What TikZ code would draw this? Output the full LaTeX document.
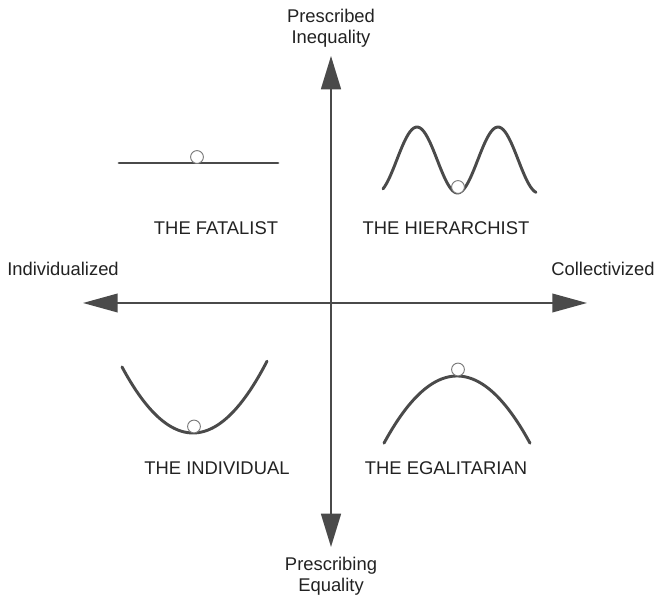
\documentclass[tikz,border=0pt]{standalone}
\usepackage{fontspec}
\setmainfont{Liberation Sans}
\usetikzlibrary{arrows.meta}
\definecolor{ink}{HTML}{4A4A4A}
\definecolor{txt}{HTML}{222222}
\definecolor{ballc}{HTML}{7A7A7A}
\begin{document}
\begin{tikzpicture}[x=0.75pt,y=0.75pt,
  lbl/.style={font=\fontsize{13.8}{16}\selectfont, text=txt, inner sep=0pt, align=center},
  axis/.style={draw=ink, line width=1.2pt},
  curve/.style={draw=ink, line width=2.2pt, line cap=round},
  ball/.style={draw=ballc, fill=white, line width=0.7pt}]
\useasboundingbox (0,0) rectangle (658,599);
% axes
\coordinate (top) at (331,543);
\coordinate (bot) at (331,52);
\coordinate (lft) at (83,296);
\coordinate (rgt) at (587,296);
\draw[axis, {Triangle[length=25pt,width=15pt]}-{Triangle[length=25pt,width=15pt]}, fill=ink] (bot) -- (top);
\draw[axis, {Triangle[length=26pt,width=14pt]}-{Triangle[length=26pt,width=14pt]}, fill=ink] (lft) -- (rgt);
% axis labels
\node[lbl] (pi) at (331,571) {Prescribed\\Inequality};
\node[lbl] (pe) at (331,22.5) {Prescribing\\Equality};
\node[lbl] (ind) at (63,330) {Individualized};
\node[lbl] (col) at (603,330) {Collectivized};
% quadrant labels
\node[lbl] (fat) at (216,371) {THE FATALIST};
\node[lbl] (hie) at (446,371) {THE HIERARCHIST};
\node[lbl] (idv) at (217,131) {THE INDIVIDUAL};
\node[lbl] (ega) at (446,131) {THE EGALITARIAN};
% fatalist
\coordinate (f1) at (119,436);
\coordinate (f2) at (278,436);
\draw[curve] (f1) -- (f2);
\draw[ball] (197,442) circle[radius=4.8pt];
% hierarchist
\draw[curve] plot[domain=383:536, samples=80, smooth] (\x, {439+33*cos(4.4444*(\x-417))});
\draw[ball] (458,412) circle[radius=4.8pt];
% individual
\draw[curve] plot[domain=122:267, samples=60, smooth] (\x, {166+0.0131*(\x-193)*(\x-193)});
\draw[ball] (194,172.5) circle[radius=4.8pt];
% egalitarian
\draw[curve] plot[domain=384:530, samples=60, smooth] (\x, {223-0.0126*(\x-457)*(\x-457)});
\draw[ball] (458,229.5) circle[radius=4.8pt];
\end{tikzpicture}
\end{document}
